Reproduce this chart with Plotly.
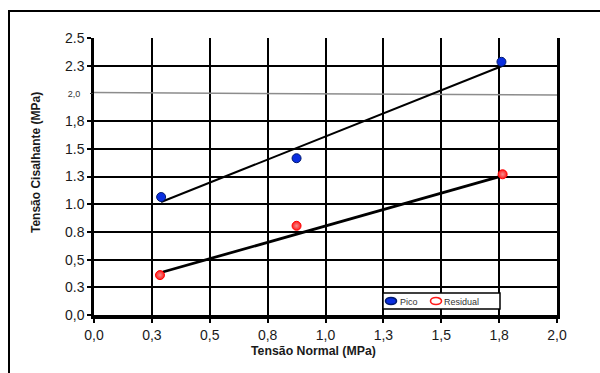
import plotly.graph_objects as go

# ---- data ----
pico_x = [0.29, 0.875, 1.76]
pico_y = [1.065, 1.415, 2.285]
res_x = [0.285, 0.875, 1.765]
res_y = [0.36, 0.805, 1.27]

pico_fit_x = [0.29, 1.763]
pico_fit_y = [1.02, 2.247]
res_fit_x = [0.297, 1.763]
res_fit_y = [0.388, 1.255]

ref_line_x = [0.0, 2.0]
ref_line_y = [2.008, 1.985]

x_tickvals = [0.0, 0.25, 0.5, 0.75, 1.0, 1.25, 1.5, 1.75, 2.0]
x_ticktext = ["0,0", "0,3", "0,5", "0,8", "1,0", "1,3", "1,5", "1,8", "2,0"]
y_tickvals = [0.0, 0.25, 0.5, 0.75, 1.0, 1.25, 1.5, 1.75, 2.25, 2.5]
y_ticktext = ["0,0", "0.3", "0,5", "0.8", "1.0", "1.3", "1.5", "1,8", "2.3", "2.5"]
y2_tickvals = [2.0]
y2_ticktext = ["2,0"]

series_names = ["Pico", "Residual"]
x_title = "Tensão Normal (MPa)"
y_title = "Tensão Cisalhante (MPa)"

FONT = "Liberation Sans, Arial, sans-serif"
BLUE = "#0a2ee0"
RED = "#ff1a1a"

fig = go.Figure()

fig.add_trace(go.Scatter(x=ref_line_x, y=ref_line_y, mode="lines",
                         line=dict(color="#8c8c8c", width=1.5),
                         showlegend=False, hoverinfo="skip"))
fig.add_trace(go.Scatter(x=pico_fit_x, y=pico_fit_y, mode="lines",
                         line=dict(color="black", width=2),
                         showlegend=False, hoverinfo="skip"))
fig.add_trace(go.Scatter(x=res_fit_x, y=res_fit_y, mode="lines",
                         line=dict(color="black", width=2.8),
                         showlegend=False, hoverinfo="skip"))

fig.add_trace(go.Scatter(x=pico_x, y=pico_y, mode="markers", name=series_names[0],
                         showlegend=False,
                         marker=dict(symbol="circle", size=9, color=BLUE,
                                     line=dict(color="#001a70", width=1))))
fig.add_trace(go.Scatter(x=res_x, y=res_y, mode="markers", name=series_names[1],
                         showlegend=False,
                         marker=dict(symbol="circle", size=9, color=RED,
                                     gradient=dict(type="radial", color="#f49090"),
                                     line=dict(color="#ff0000", width=1))))

L, R, T, B = 94, 43, 38, 58
W, H = 600, 373
pw, ph = W - L - R, H - T - B


def px(xp):
    return (xp - L) / pw


def py(yp):
    return (H - B - yp) / ph


fig.update_layout(
    width=W, height=H,
    margin=dict(l=L, r=R, t=T, b=B),
    paper_bgcolor="white", plot_bgcolor="white",
    font=dict(family=FONT, color="#1a1a1a"),
    showlegend=False,
    xaxis=dict(range=[0, 2.0], tickvals=x_tickvals, ticktext=x_ticktext,
               showgrid=True, gridcolor="black", gridwidth=2,
               zeroline=False, showline=True, linecolor="black", linewidth=4,
               ticks="outside", ticklen=4, tickwidth=2, tickcolor="black",
               tickfont=dict(size=14, family=FONT, color="#1a1a1a")),
    yaxis=dict(range=[0, 2.5], tickvals=y_tickvals, ticktext=y_ticktext,
               showgrid=True, gridcolor="black", gridwidth=2,
               zeroline=False, showline=True, linecolor="black", linewidth=2.5,
               mirror=True,
               ticks="outside", ticklen=4, tickwidth=2, tickcolor="black",
               tickfont=dict(size=14, family=FONT, color="#1a1a1a")),
    yaxis2=dict(range=[0, 2.5], overlaying="y", anchor="x", side="left",
                tickvals=y2_tickvals, ticktext=y2_ticktext,
                showgrid=False, zeroline=False, showline=False,
                ticks="outside", ticklen=3, tickwidth=1, tickcolor="#333",
                ticklabelstandoff=8,
                tickfont=dict(size=9, family=FONT, color="#333")),
)

# invisible trace to activate yaxis2
fig.add_trace(go.Scatter(x=[None], y=[None], yaxis="y2", showlegend=False,
                         hoverinfo="skip"))

# axis titles (positioned as in the original, slightly off-centre)
fig.add_annotation(xref="paper", yref="paper", x=px(313.5), y=py(351),
                   xanchor="center", yanchor="middle", showarrow=False,
                   text="<b>" + x_title + "</b>",
                   font=dict(size=12.3, family=FONT, color="#1a1a1a"))
fig.add_annotation(xref="paper", yref="paper", x=px(36), y=py(163),
                   xanchor="center", yanchor="middle", showarrow=False,
                   textangle=-90, text="<b>" + y_title + "</b>",
                   font=dict(size=12, family=FONT, color="#1a1a1a"))

# outer frame (extends beyond the right and bottom edges)
fig.add_shape(type="rect", xref="paper", yref="paper",
              x0=px(9), x1=1.3, y0=-0.4, y1=py(11),
              line=dict(color="black", width=2), fillcolor="rgba(0,0,0,0)",
              layer="below")

# legend box
fig.add_shape(type="rect", xref="paper", yref="paper",
              x0=px(383), x1=px(500), y0=py(309), y1=py(293),
              line=dict(color="black", width=1.5), fillcolor="white",
              layer="above")
legend_marker_px = [391, 436]
legend_text_px = [399, 443]
legend_styles = [dict(fill=BLUE, line="#001a70"), dict(fill="white", line=RED)]
for name, mx, tx, st in zip(series_names, legend_marker_px, legend_text_px, legend_styles):
    fig.add_shape(type="circle", xref="paper", yref="paper",
                  xsizemode="pixel", ysizemode="pixel",
                  xanchor=px(mx), yanchor=py(301),
                  x0=-5.5, x1=5.5, y0=-3.5, y1=3.5,
                  fillcolor=st["fill"], line=dict(color=st["line"], width=1.6),
                  layer="above")
    fig.add_annotation(xref="paper", yref="paper", x=px(tx), y=py(301.5),
                       xanchor="left", yanchor="middle", showarrow=False,
                       text=name, borderpad=0,
                       font=dict(size=9, family=FONT, color="#333"))

fig.write_html("out.html")
